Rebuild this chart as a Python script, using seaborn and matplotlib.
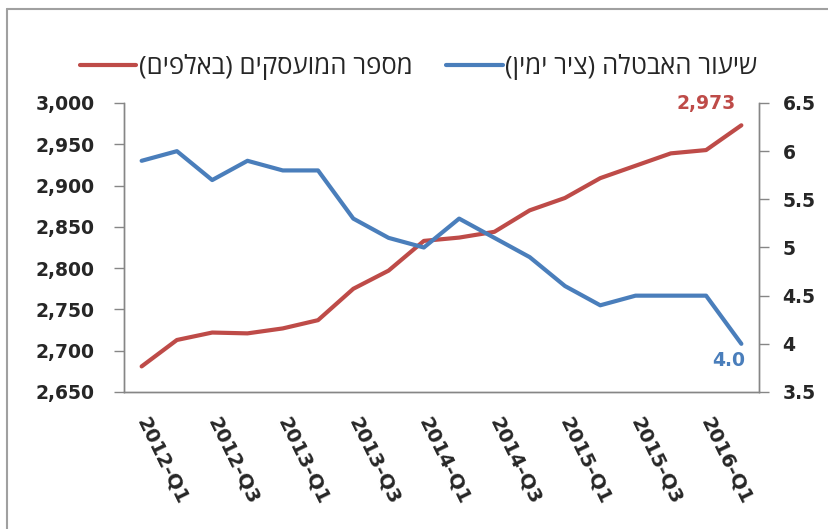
import numpy as np
import pandas as pd
import matplotlib
matplotlib.use('Agg')
import matplotlib.pyplot as plt
import seaborn as sns

# quarters 2012-Q1 .. 2016-Q2
quarters = ['2012-Q1', '2012-Q2', '2012-Q3', '2012-Q4',
            '2013-Q1', '2013-Q2', '2013-Q3', '2013-Q4',
            '2014-Q1', '2014-Q2', '2014-Q3', '2014-Q4',
            '2015-Q1', '2015-Q2', '2015-Q3', '2015-Q4',
            '2016-Q1', '2016-Q2']
employed = [2681, 2713, 2722, 2721, 2727, 2737, 2775, 2797, 2833,
            2837, 2844, 2870, 2885, 2909, 2924, 2939, 2943, 2973]
unemployment = [5.9, 6.0, 5.7, 5.9, 5.8, 5.8, 5.3, 5.1, 5.0,
                5.3, 5.1, 4.9, 4.6, 4.4, 4.5, 4.5, 4.5, 4.0]

# Hebrew labels given in visual (left-to-right) order
label_employed = '(םיפלאב) םיקסעומה רפסמ'
label_unemp = '(ןימי ריצ) הלטבאה רועיש'

red = '#BE4B48'
blue = '#4A7EBB'
gray = '#868686'

df = pd.DataFrame({'x': np.arange(len(quarters)),
                   'employed': employed,
                   'unemployment': unemployment})

sns.set_style('white')
plt.rcParams['font.family'] = ['DejaVu Sans']

fig = plt.figure(figsize=(8.29, 5.29), dpi=100)
ax = fig.add_axes([124 / 829, 1 - 392 / 529, (759 - 124) / 829, (392 - 103) / 529])
ax2 = ax.twinx()

sns.lineplot(data=df, x='x', y='employed', ax=ax, color=red, linewidth=3,
             label=label_employed, legend=False)
sns.lineplot(data=df, x='x', y='unemployment', ax=ax2, color=blue, linewidth=3,
             label=label_unemp, legend=False)

ax.set_xlim(-0.5, len(quarters) - 0.5)
ax.set_ylim(2650, 3000)
ax2.set_ylim(3.5, 6.5)
ax.set_yticks(np.arange(2650, 3001, 50))
ax.set_yticklabels([f'{v:,}' for v in range(2650, 3001, 50)])
ax2.set_yticks(np.arange(3.5, 6.51, 0.5))
ax2.set_yticklabels(['3.5', '4', '4.5', '5', '5.5', '6', '6.5'])

ax.set_xticks(np.arange(0, len(quarters), 2))
ax.set_xticklabels(quarters[::2], rotation=-64, rotation_mode='anchor',
                   ha='left', va='center')
ax.set_xticks(np.arange(-0.5, len(quarters), 1), minor=True)
ax.tick_params(axis='x', which='major', length=0, pad=19, labelsize=14.2)
ax.tick_params(axis='x', which='minor', length=7, width=1, color=gray, direction='out')
ax.tick_params(axis='y', length=7, width=1, color=gray, direction='out', pad=14, labelsize=13.5)
ax2.tick_params(axis='y', length=7, width=1, color=gray, direction='out', pad=10, labelsize=13.5)
for lab in ax.get_xticklabels() + ax.get_yticklabels() + ax2.get_yticklabels():
    lab.set_fontweight('bold')

ax.set_xlabel('')
ax.set_ylabel('')
ax2.set_ylabel('')
for a in (ax, ax2):
    a.spines['top'].set_visible(False)
    for side in ('left', 'right', 'bottom'):
        a.spines[side].set_color(gray)
        a.spines[side].set_linewidth(1)
ax.grid(False)
ax2.grid(False)

# end labels
ax.text(len(quarters) - 1 - 0.15, 2999, f'{employed[-1]:,}', color=red,
        fontsize=13.5, fontweight='bold', ha='right', va='center')
ax2.text(len(quarters) - 1 + 0.1, unemployment[-1] - 0.07, f'{unemployment[-1]:.1f}',
         color=blue, fontsize=13.5, fontweight='bold', ha='right', va='top')

# legend on top
h1, l1 = ax.get_legend_handles_labels()
h2, l2 = ax2.get_legend_handles_labels()
fig.legend(h1 + h2, l1 + l2, loc='center', bbox_to_anchor=(0.505, 1 - 67 / 529),
           ncol=2, frameon=False, handlelength=2.2, handletextpad=0.1,
           columnspacing=1.3, prop={'family': ['Open Sans', 'DejaVu Sans'], 'size': 18.5})

# outer frame (left and top edges visible)
fig.add_artist(plt.Line2D([7 / 829, 7 / 829], [0, 1 - 9 / 529], transform=fig.transFigure,
                          color='#A0A0A0', linewidth=1.5))
fig.add_artist(plt.Line2D([7 / 829, 1], [1 - 9 / 529, 1 - 9 / 529], transform=fig.transFigure,
                          color='#A0A0A0', linewidth=1.5))

fig.savefig('out.png', dpi=100)
